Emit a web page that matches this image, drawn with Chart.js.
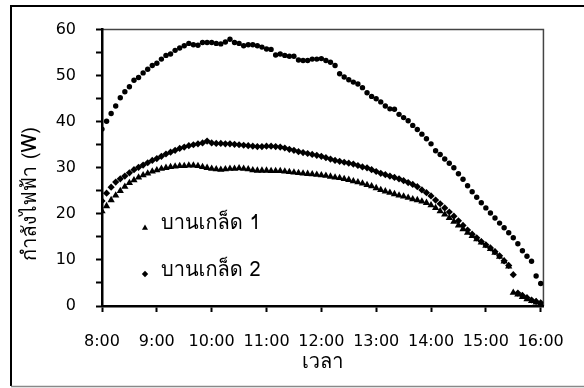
<!DOCTYPE html>
<html>
<head>
<meta charset="utf-8">
<script src="https://cdn.jsdelivr.net/npm/chart.js@4.4.1/dist/chart.umd.min.js"></script>
<style>
  html, body { margin: 0; padding: 0; background: #fff; }
</style>
</head>
<body>
<canvas id="myChart" width="584" height="388"></canvas>
<script>
// readings every 5 minutes from 8:00 to 16:00
const startHour = 8;
const stepMinutes = 5;

// top dotted series (no legend entry)
const powerTop = [
  38.4, 40.1, 41.8, 43.4, 45.2, 46.5, 47.6, 49.0, 49.6, 50.6, 51.4, 52.2,
  52.7, 53.6, 54.4, 54.7, 55.5, 56.0, 56.5, 57.0, 56.7, 56.6, 57.2, 57.2,
  57.2, 57.0, 56.9, 57.3, 57.9, 57.2, 57.0, 56.5, 56.7, 56.7, 56.5, 56.2,
  55.8, 55.7, 54.5, 54.7, 54.4, 54.2, 54.2, 53.4, 53.3, 53.3, 53.6, 53.6,
  53.7, 53.3, 52.9, 52.2, 50.4, 49.7, 49.1, 48.6, 48.2, 47.4, 46.3, 45.5,
  45.0, 44.3, 43.4, 42.8, 42.7, 41.6, 40.9, 40.2, 39.2, 38.3, 37.3, 36.3,
  35.2, 33.7, 32.9, 31.9, 31.0, 30.0, 28.7, 27.5, 26.1, 24.8, 23.6, 22.4,
  21.3, 20.2, 19.1, 18.0, 17.0, 15.9, 14.8, 13.5, 12.0, 10.8, 9.7, 6.5, 4.9
];

// บานเกล็ด 1 (triangles)
const power1 = [
  20.6, 21.7, 23.0, 24.0, 25.0, 25.9, 26.7, 27.3, 27.9, 28.4, 28.8, 29.2,
  29.5, 29.8, 30.0, 30.2, 30.3, 30.4, 30.4, 30.5, 30.5, 30.4, 30.2, 30.0,
  29.8, 29.7, 29.6, 29.7, 29.8, 29.8, 29.9, 29.8, 29.7, 29.5, 29.4, 29.4,
  29.4, 29.3, 29.3, 29.3, 29.2, 29.1, 29.0, 28.9, 28.8, 28.7, 28.6, 28.5,
  28.4, 28.3, 28.1, 27.9, 27.8, 27.6, 27.4, 27.1, 26.9, 26.6, 26.3, 26.0,
  25.6, 25.2, 24.9, 24.6, 24.3, 24.0, 23.8, 23.5, 23.2, 23.0, 22.7, 22.4,
  21.9, 21.3, 20.6, 19.9, 19.1, 18.3, 17.5, 16.7, 15.9, 15.2, 14.5, 13.8,
  13.1, 12.4, 11.6, 10.7, 9.7, 8.6, 2.9, 2.5, 2.0, 1.5, 1.1, 0.8, 0.5
];

// บานเกล็ด 2 (diamonds)
const power2 = [
  22.8, 24.5, 25.8, 26.9, 27.6, 28.2, 28.9, 29.6, 30.1, 30.6, 31.1, 31.6,
  32.0, 32.5, 33.0, 33.4, 33.8, 34.2, 34.5, 34.8, 35.0, 35.2, 35.4, 35.8,
  35.4, 35.3, 35.3, 35.2, 35.2, 35.1, 35.0, 34.9, 34.8, 34.7, 34.6, 34.6,
  34.7, 34.7, 34.6, 34.5, 34.3, 34.0, 33.8, 33.5, 33.3, 33.1, 32.9, 32.7,
  32.5, 32.2, 31.9, 31.6, 31.4, 31.2, 31.0, 30.8, 30.5, 30.2, 30.0, 29.6,
  29.2, 28.8, 28.5, 28.2, 27.9, 27.6, 27.2, 26.8, 26.4, 25.9, 25.2, 24.6,
  23.9, 23.0, 22.2, 21.3, 20.4, 19.5, 18.5, 17.5, 16.5, 15.6, 14.8, 14.0,
  13.3, 12.6, 11.8, 10.9, 9.8, 8.8, 6.8, 2.8, 2.3, 1.8, 1.3, 1.0, 0.7
];

const hourTicks = [8, 9, 10, 11, 12, 13, 14, 15, 16];
const powerTicks = [0, 5, 10, 15, 20, 25, 30, 35, 40, 45, 50, 55, 60];
const legendNames = ['บานเกล็ด 1', 'บานเกล็ด 2'];
const xTitle = 'เวลา';
const yTitle = 'กำลังไฟฟ้า (W)';

const FONT = "'DejaVu Sans', sans-serif";
const THAI_FONT = "Tahoma, Waree, Loma, 'Noto Sans Thai', Garuda, 'DejaVu Sans', sans-serif";

function toPoints(values) {
  return values.map((v, i) => ({ x: startHour + i * stepMinutes / 60, y: v }));
}

// frame, plot box, legend and titles are drawn by hand
const framePlugin = {
  id: 'frame',
  beforeDraw(chart) {
    const ctx = chart.ctx, a = chart.chartArea;
    ctx.save();
    ctx.fillStyle = '#fff';
    ctx.fillRect(0, 0, chart.width, chart.height);
    ctx.strokeStyle = '#000';
    ctx.lineWidth = 2;
    ctx.beginPath();
    ctx.moveTo(chart.width, 6);
    ctx.lineTo(11, 6);
    ctx.lineTo(11, 386);
    ctx.stroke();
    ctx.strokeStyle = '#888';
    ctx.lineWidth = 1.5;
    ctx.beginPath();
    ctx.moveTo(11, 386.5);
    ctx.lineTo(chart.width, 386.5);
    ctx.stroke();
    // plot box top and right
    ctx.strokeStyle = '#444';
    ctx.lineWidth = 1.5;
    ctx.beginPath();
    ctx.moveTo(a.left, a.top);
    ctx.lineTo(a.right, a.top);
    ctx.lineTo(a.right, a.bottom);
    ctx.stroke();
    ctx.restore();
  },
  afterDraw(chart) {
    const ctx = chart.ctx, a = chart.chartArea;
    ctx.save();
    ctx.fillStyle = '#000';
    ctx.font = '20px ' + THAI_FONT;
    ctx.textBaseline = 'middle';
    ctx.textAlign = 'left';
    // legend
    Chart.helpers.drawPoint(ctx, { pointStyle: 'triangle', radius: 3.5, borderWidth: 0 }, 145, 228);
    ctx.fillText(legendNames[0], 161, 225);
    Chart.helpers.drawPoint(ctx, { pointStyle: 'rectRot', radius: 3.2, borderWidth: 0 }, 145, 274);
    ctx.fillText(legendNames[1], 161, 272);
    // x title
    ctx.textAlign = 'center';
    ctx.fillText(xTitle, (a.left + a.right) / 2, 364);
    // y title
    ctx.translate(32, 194);
    ctx.rotate(-Math.PI / 2);
    ctx.fillText(yTitle, 0, 0);
    ctx.restore();
  }
};

const config = {
  type: 'scatter',
  data: {
    datasets: [{
      label: 'top',
      data: toPoints(powerTop),
      pointStyle: 'circle',
      pointRadius: 2.7,
      backgroundColor: '#000',
      borderColor: '#000',
      borderWidth: 0
    }, {
      label: legendNames[1],
      data: toPoints(power2),
      pointStyle: 'rectRot',
      pointRadius: 3.6,
      backgroundColor: '#000',
      borderColor: '#000',
      borderWidth: 0
    }, {
      label: legendNames[0],
      data: toPoints(power1),
      pointStyle: 'triangle',
      pointRadius: 4.2,
      backgroundColor: '#000',
      borderColor: '#000',
      borderWidth: 0
    }]
  },
  options: {
    responsive: false,
    animation: false,
    devicePixelRatio: 1,
    layout: {
      padding: { left: 12, top: 28, right: 40, bottom: 22 }
    },
    scales: {
      x: {
        type: 'linear',
        min: 8,
        max: 16.05,
        afterBuildTicks: function (scale) {
          scale.ticks = hourTicks.map(v => ({ value: v }));
        },
        afterFit: function (scale) {
          scale.height = 60;
        },
        ticks: {
          color: '#000',
          font: { family: FONT, size: 16 },
          padding: 20,
          maxRotation: 0,
          autoSkip: false,
          callback: function (value) {
            return value + ':00';
          }
        },
        grid: {
          drawOnChartArea: false,
          drawTicks: true,
          tickLength: 6,
          tickWidth: 2,
          tickColor: '#000'
        },
        border: { display: true, color: '#000', width: 2.5 }
      },
      y: {
        min: 0,
        max: 60,
        afterBuildTicks: function (scale) {
          scale.ticks = powerTicks.map(v => ({ value: v }));
        },
        afterFit: function (scale) {
          scale.width = 90;
        },
        ticks: {
          color: '#000',
          font: { family: FONT, size: 16 },
          padding: 20,
          autoSkip: false,
          callback: function (value) {
            return value % 10 === 0 ? value : '';
          }
        },
        grid: {
          drawOnChartArea: false,
          drawTicks: true,
          tickLength: 6,
          tickWidth: 2,
          tickColor: '#000'
        },
        border: { display: true, color: '#000', width: 2.5 }
      }
    },
    plugins: {
      legend: { display: false },
      tooltip: { enabled: false }
    }
  },
  plugins: [framePlugin]
};

const myChart = new Chart(document.getElementById('myChart'), config);
</script>
</body>
</html>
